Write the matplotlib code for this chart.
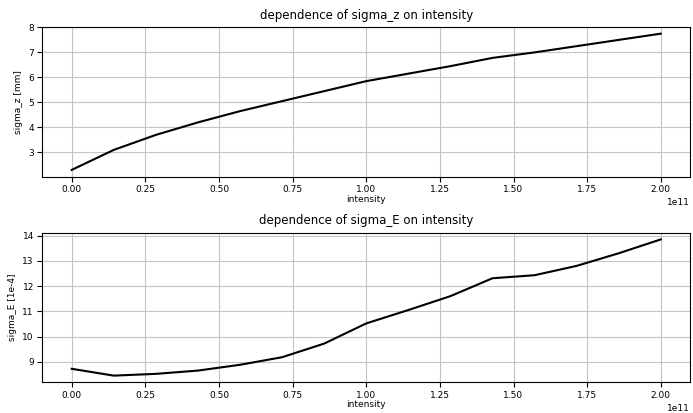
import matplotlib
matplotlib.use("Agg")
import matplotlib.pyplot as plt

# intensity points (15 steps from 0 to 2e11)
intensity = [0.0, 0.142857e11, 0.285714e11, 0.428571e11, 0.571429e11, 0.714286e11,
             0.857143e11, 1.0e11, 1.142857e11, 1.285714e11, 1.428571e11,
             1.571429e11, 1.714286e11, 1.857143e11, 2.0e11]
sigma_z = [2.3, 3.1, 3.7, 4.2, 4.65, 5.05, 5.45, 5.85, 6.15, 6.45, 6.78, 7.0, 7.25, 7.5, 7.75]
sigma_E = [8.72, 8.45, 8.52, 8.65, 8.88, 9.18, 9.72, 10.52, 11.05, 11.6, 12.31, 12.43,
           12.8, 13.3, 13.85]

plt.rcParams['font.size'] = 6.5

fig, (ax1, ax2) = plt.subplots(2, 1, figsize=(6.93, 4.13), dpi=100)
fig.subplots_adjust(left=0.061, right=0.996, top=0.935, bottom=0.074, hspace=0.373)

ax1.plot(intensity, sigma_z, color='black', linewidth=1.5)
ax1.set_title("dependence of sigma_z on intensity", fontsize=8.5)
ax1.set_xlabel("intensity", labelpad=0.5)
ax1.set_ylabel("sigma_z [mm]")

ax2.plot(intensity, sigma_E, color='black', linewidth=1.5)
ax2.set_title("dependence of sigma_E on intensity", fontsize=8.5)
ax2.set_xlabel("intensity", labelpad=0.5)
ax2.set_ylabel("sigma_E [1e-4]")

for ax in (ax1, ax2):
    ax.grid(True, color='#c4c4c4', linewidth=0.8)
    ax.tick_params(labelsize=6.5, pad=2.5)
    ax.xaxis.get_offset_text().set_fontsize(6.5)

fig.savefig("out.png", dpi=100)
